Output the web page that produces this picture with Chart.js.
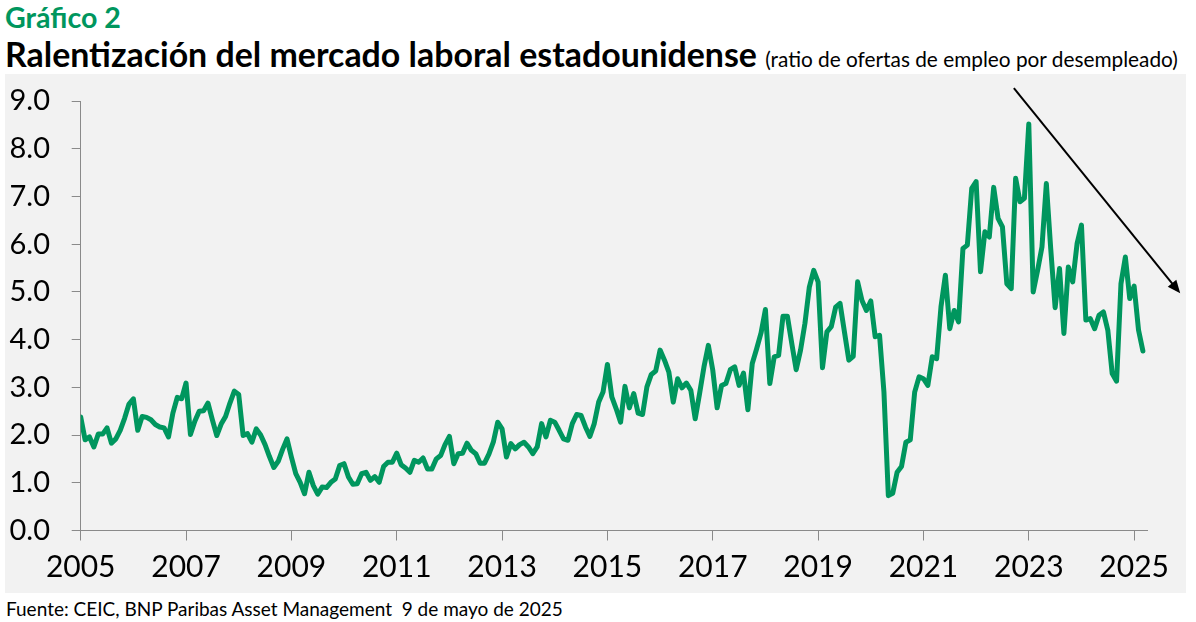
<!DOCTYPE html>
<html><head><meta charset="utf-8">
<script src="https://cdn.jsdelivr.net/npm/chart.js@4.4.1/dist/chart.umd.min.js"></script>
<style>
html,body{margin:0;padding:0;background:#fff;width:1196px;height:622px;overflow:hidden;font-family:Lato,sans-serif}
#t1{position:absolute;left:5px;top:3px;font:700 28.6px/29px Lato;color:#00965e;white-space:nowrap}
#t2{position:absolute;left:5px;top:37px;font:700 33.9px/34px Lato;color:#000;white-space:nowrap}
#t2 span{font-weight:400;font-size:20.8px}
#wrap{position:absolute;left:5px;top:74px;width:1181px;height:519px;background:#f2f2f2}
#src{position:absolute;left:6px;top:599px;font:400 19px/19px Lato;color:#000;white-space:pre}
</style></head>
<body>
<div id="t1">Gráfico 2</div>
<div id="t2">Ralentización del mercado laboral estadounidense <span>(ratio de ofertas de empleo por desempleado)</span></div>
<div id="wrap"><canvas id="c"></canvas></div>
<div id="src">Fuente: CEIC, BNP Paribas Asset Management  9 de mayo de 2025</div>
<script>
// Monthly series, Jan 2005 .. Mar 2025
const startYear = 2005;
const ratio = [
  2.38, 1.90, 1.96, 1.75, 2.02, 2.02, 2.15, 1.83, 1.92, 2.10, 2.35, 2.65,
  2.76, 2.10, 2.39, 2.37, 2.32, 2.22, 2.17, 2.15, 1.96, 2.46, 2.79, 2.76,
  3.09, 2.01, 2.29, 2.50, 2.51, 2.67, 2.32, 1.99, 2.23, 2.39, 2.67, 2.92,
  2.85, 1.99, 2.03, 1.85, 2.13, 2.00, 1.80, 1.55, 1.32, 1.45, 1.70, 1.92,
  1.54, 1.19, 1.01, 0.77, 1.22, 0.94, 0.76, 0.91, 0.90, 1.01, 1.08, 1.36,
  1.40, 1.12, 0.97, 0.98, 1.19, 1.22, 1.05, 1.13, 1.01, 1.34, 1.43, 1.43,
  1.62, 1.38, 1.31, 1.22, 1.47, 1.43, 1.52, 1.29, 1.29, 1.50, 1.57, 1.80,
  1.97, 1.40, 1.61, 1.62, 1.83, 1.68, 1.61, 1.41, 1.41, 1.60, 1.85, 2.27,
  2.13, 1.54, 1.82, 1.71, 1.80, 1.85, 1.75, 1.61, 1.75, 2.24, 1.96, 2.31,
  2.27, 2.10, 1.92, 1.89, 2.24, 2.43, 2.41, 2.17, 1.97, 2.24, 2.69, 2.90,
  3.48, 2.80, 2.55, 2.27, 3.02, 2.57, 2.87, 2.46, 2.43, 3.01, 3.27, 3.34,
  3.78, 3.57, 3.32, 2.69, 3.18, 2.99, 3.09, 2.94, 2.34, 2.87, 3.43, 3.88,
  3.36, 2.57, 3.04, 3.08, 3.37, 3.43, 3.04, 3.30, 2.53, 3.50, 3.81, 4.14,
  4.63, 3.08, 3.64, 3.67, 4.49, 4.49, 3.92, 3.37, 3.78, 4.34, 5.10, 5.45,
  5.21, 3.41, 4.16, 4.27, 4.68, 4.76, 4.16, 3.57, 3.65, 5.21, 4.82, 4.61,
  4.81, 4.06, 4.09, 2.90, 0.73, 0.78, 1.22, 1.34, 1.85, 1.90, 2.90, 3.22,
  3.18, 3.04, 3.64, 3.60, 4.69, 5.35, 4.23, 4.61, 4.37, 5.91, 5.98, 7.17,
  7.31, 5.42, 6.26, 6.15, 7.19, 6.54, 6.36, 5.17, 5.07, 7.38, 6.89, 6.96,
  8.52, 5.00, 5.45, 5.94, 7.27, 5.90, 4.67, 5.49, 4.13, 5.52, 5.21, 6.01,
  6.40, 4.41, 4.44, 4.23, 4.51, 4.58, 4.20, 3.29, 3.13, 5.17, 5.73, 4.86,
  5.12, 4.20, 3.76
];
const xTickYears = [2005, 2007, 2009, 2011, 2013, 2015, 2017, 2019, 2021, 2023, 2025];
const yTickValues = [0, 1, 2, 3, 4, 5, 6, 7, 8, 9];
const axisEndMonth = 243;           // Apr 2025, months after Jan 2005
const arrowFrom = {x: 212.6, y: 9.27};   // trend arrow, in data units
const arrowTo = {x: 250.5, y: 4.97};

const arrowPlugin = {
  id: 'trendArrow',
  afterDraw(chart) {
    const {ctx, scales: {x, y}} = chart;
    const x1 = x.getPixelForValue(arrowFrom.x), y1 = y.getPixelForValue(arrowFrom.y);
    const x2 = x.getPixelForValue(arrowTo.x), y2 = y.getPixelForValue(arrowTo.y);
    const a = Math.atan2(y2 - y1, x2 - x1);
    const L = 13, W = 5.5;
    const bx = x2 - L * Math.cos(a), by = y2 - L * Math.sin(a);
    ctx.save();
    ctx.strokeStyle = '#000'; ctx.fillStyle = '#000'; ctx.lineWidth = 2;
    ctx.beginPath(); ctx.moveTo(x1, y1); ctx.lineTo(bx + 2 * Math.cos(a), by + 2 * Math.sin(a)); ctx.stroke();
    ctx.beginPath();
    ctx.moveTo(x2, y2);
    ctx.lineTo(bx + W * Math.sin(a), by - W * Math.cos(a));
    ctx.lineTo(bx - W * Math.sin(a), by + W * Math.cos(a));
    ctx.closePath(); ctx.fill();
    ctx.restore();
  }
};

new Chart(document.getElementById('c'), {
  type: 'line',
  data: {
    datasets: [{
      data: ratio.map((v, i) => ({x: i, y: v})),
      borderColor: '#00965e',
      borderWidth: 5,
      pointRadius: 0,
      tension: 0,
      fill: false,
      borderJoinStyle: 'round',
      borderCapStyle: 'round'
    }]
  },
  options: {
    responsive: true,
    maintainAspectRatio: false,
    animation: false,
    layout: {padding: {top: 27, right: 38.7, left: 0, bottom: 0}},
    plugins: {legend: {display: false}, tooltip: {enabled: false}},
    scales: {
      x: {
        type: 'linear', min: 0, max: axisEndMonth,
        afterBuildTicks: s => { s.ticks = xTickYears.map(yv => ({value: (yv - startYear) * 12})); },
        ticks: {callback: v => String(startYear + v / 12), color: '#000', font: {family: 'Lato', size: 30}, padding: 9, maxRotation: 0, autoSkip: false},
        grid: {drawOnChartArea: false, drawTicks: true, tickLength: 10, color: '#8a8a8a', lineWidth: 1},
        border: {display: true, color: '#8a8a8a', width: 1},
        afterFit: s => { s.height = 62.5; s.paddingLeft = 0; s.paddingRight = 0; }
      },
      y: {
        min: 0, max: 9,
        afterBuildTicks: s => { s.ticks = yTickValues.map(v => ({value: v})); },
        ticks: {callback: v => v.toFixed(1), color: '#000', font: {family: 'Lato', size: 29}, padding: 21.7},
        grid: {drawOnChartArea: false, drawTicks: true, tickLength: 9, color: '#8a8a8a', lineWidth: 1},
        border: {display: true, color: '#8a8a8a', width: 1},
        afterFit: s => { s.width = 75.7; s.paddingTop = 0; s.paddingBottom = 0; }
      }
    }
  },
  plugins: [arrowPlugin]
});
</script>
</body></html>
